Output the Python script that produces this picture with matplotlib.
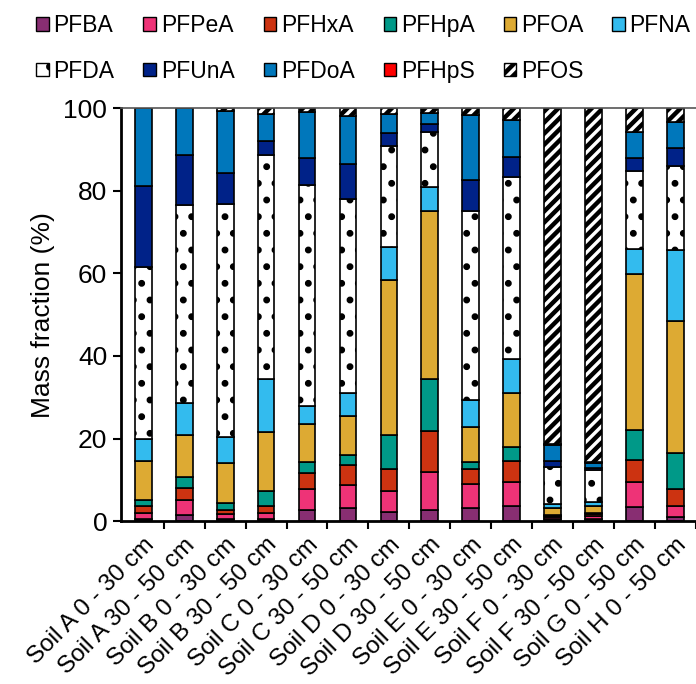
import numpy as np
import matplotlib
matplotlib.use("Agg")
import matplotlib.pyplot as plt
from matplotlib.patches import Patch

plt.rcParams["font.family"] = ["Liberation Sans", "DejaVu Sans"]

samples = ["Soil A 0 - 30 cm", "Soil A 30 - 50 cm", "Soil B 0 - 30 cm", "Soil B 30 - 50 cm",
           "Soil C 0 - 30 cm", "Soil C 30 - 50 cm", "Soil D 0 - 30 cm", "Soil D 30 - 50 cm",
           "Soil E 0 - 30 cm", "Soil E 30 - 50 cm", "Soil F 0 - 30 cm", "Soil F 30 - 50 cm",
           "Soil G 0 - 50 cm", "Soil H 0 - 50 cm"]

# mass fraction (%) of each compound per sample
pfba  = [0.65, 1.45, 0.65, 0.65, 2.8, 3.2, 2.3, 2.65, 3.3, 3.7, 0.6, 0.5, 3.4, 1.0]
pfpea = [1.45, 3.7, 1.05, 1.35, 4.9, 5.5, 5.0, 9.15, 5.6, 5.8, 0.4, 0.8, 6.0, 2.6]
pfhxa = [1.5, 2.9, 1.1, 1.8, 4.0, 5.0, 5.4, 10.0, 3.7, 5.0, 0.3, 0.4, 5.5, 4.1]
pfhpa = [1.5, 2.6, 1.5, 3.5, 2.6, 2.4, 8.1, 12.6, 1.8, 3.4, 0.3, 0.3, 7.1, 8.8]
pfoa  = [9.4, 10.2, 9.7, 14.3, 9.3, 9.4, 37.7, 40.6, 8.4, 13.1, 1.7, 1.6, 37.8, 31.9]
pfna  = [5.5, 7.7, 6.4, 12.9, 4.2, 5.5, 7.9, 5.8, 6.5, 8.2, 0.8, 1.1, 6.2, 17.3]
pfda  = [41.5, 48.1, 56.3, 54.1, 53.7, 47.1, 24.3, 13.4, 45.7, 44.1, 9.0, 7.6, 18.7, 20.2]
pfuna = [19.6, 12.1, 7.6, 3.4, 6.5, 8.4, 3.3, 1.9, 7.5, 4.8, 1.5, 0.6, 3.1, 4.4]
pfdoa = [18.8, 11.3, 14.9, 6.5, 11.0, 11.6, 4.6, 2.8, 15.9, 9.1, 3.8, 1.2, 6.4, 6.4]
pfhps = [0, 0, 0, 0, 0, 0, 0, 0, 0, 0, 0.2, 0.2, 0, 0]
pfos  = [0, 0, 0.8, 1.5, 1.0, 1.9, 1.4, 1.1, 1.6, 2.8, 81.4, 85.7, 5.8, 3.3]

names = ["PFBA", "PFPeA", "PFHxA", "PFHpA", "PFOA", "PFNA",
         "PFDA", "PFUnA", "PFDoA", "PFHpS", "PFOS"]
series = [pfba, pfpea, pfhxa, pfhpa, pfoa, pfna, pfda, pfuna, pfdoa, pfhps, pfos]
colors = ["#882E72", "#EE3377", "#CC3311", "#009988", "#DDAA33", "#33BBEE",
          "white", "#002288", "#0077BB", "#FF0000", "white"]
hatches = [None, None, None, None, None, None, ".", None, None, None, "///"]

fig = plt.figure(figsize=(6.96, 6.84), dpi=100)
ax = fig.add_axes([0.174, 0.238, 0.826, 0.604])

x = np.arange(len(samples))
bottom = np.zeros(len(samples))
handles = []
for name, vals, col, hat in zip(names, series, colors, hatches):
    vals = np.array(vals, dtype=float)
    hlw = 3.2 if hat == "///" else 2.5
    plt.rcParams["hatch.linewidth"] = hlw
    bars = ax.bar(x, vals, width=0.41, bottom=bottom, color=col,
                  edgecolor="black", linewidth=1.2, hatch=hat)
    for b in bars:
        if hasattr(b, "set_hatch_linewidth"):
            b.set_hatch_linewidth(hlw)
    bottom += vals
    h = Patch(facecolor=col, edgecolor="black", linewidth=1.0, hatch=hat)
    if hasattr(h, "set_hatch_linewidth"):
        h.set_hatch_linewidth(hlw)
    handles.append(h)

ax.set_xlim(-0.54, 13.28)
ax.set_ylim(0, 100)
ax.set_yticks([0, 20, 40, 60, 80, 100])
ax.tick_params(axis="y", labelsize=19, length=6, width=1.5, direction="out", pad=4)
ax.set_xticks(x)
ax.set_xticklabels(samples, rotation=45, ha="right", rotation_mode="anchor", fontsize=17.5)
ax.tick_params(axis="x", which="major", length=0, pad=9)
ax.set_xticks(np.arange(len(samples)) + 0.5, minor=True)
ax.tick_params(axis="x", which="minor", length=6, width=1.5, direction="out")
ax.set_ylabel("Mass fraction (%)", fontsize=19, labelpad=6)

ax.spines["right"].set_visible(False)
ax.spines["left"].set_linewidth(2)
ax.spines["bottom"].set_linewidth(2)
ax.spines["top"].set_linewidth(1.2)
ax.spines["top"].set_color("#555555")

order = [0, 6, 1, 7, 2, 8, 3, 9, 4, 10, 5]
fig.legend([handles[i] for i in order], [names[i] for i in order],
           loc="upper center", bbox_to_anchor=(0.522, 1.01), ncol=6, frameon=False,
           fontsize=16.5, handlelength=0.55, handleheight=0.55, handletextpad=0.2,
           columnspacing=1.27, labelspacing=1.0)

fig.savefig("out.png", dpi=100)
